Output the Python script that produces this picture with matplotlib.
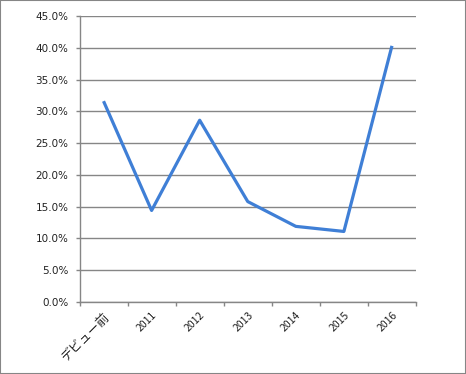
import matplotlib
matplotlib.use("Agg")
import matplotlib.pyplot as plt
from matplotlib.patches import Rectangle

categories = ["デビュー前", "2011", "2012", "2013", "2014", "2015", "2016"]
values = [31.6, 14.4, 28.6, 15.8, 11.9, 11.1, 40.3]
yticks = [0, 5, 10, 15, 20, 25, 30, 35, 40, 45]

plt.rcParams['font.family'] = ['DejaVu Sans', 'Noto Sans CJK JP']

fig = plt.figure(figsize=(4.66, 3.74), dpi=100)
ax = fig.add_axes([79.5/466, (374-302)/374, (416-79.5)/466, (302-16)/374])

x = list(range(len(categories)))
ax.plot(x, values, color='#3f7fd6', linewidth=2.3, solid_capstyle='butt', zorder=3)

ax.set_xlim(-0.5, len(categories) - 0.5)
ax.set_ylim(0, 45)
ax.set_yticks(yticks)
ax.set_yticklabels([f"{v:.1f}%" for v in yticks], fontsize=7.5, color='#222222')
ax.yaxis.grid(True, color='#868686', linewidth=1.0)
ax.set_axisbelow(True)

ax.set_xticks([i - 0.5 for i in range(len(categories) + 1)], minor=False)
ax.set_xticklabels([])
ax.set_xticks(x, minor=True)
labels = ax.set_xticklabels(categories, minor=True, rotation=45, ha='right', va='top',
                            rotation_mode='anchor', fontsize=7.5, color='#222222',
                            family=['Noto Sans CJK JP', 'DejaVu Sans'])
labels[0].set_fontsize(9)
ax.tick_params(axis='x', which='minor', length=0, pad=6)
ax.tick_params(axis='x', which='major', length=3, color='#868686', width=1)
ax.tick_params(axis='y', length=3, color='#868686', width=1, pad=5)

for s in ['top', 'right']:
    ax.spines[s].set_visible(False)
for s in ['left', 'bottom']:
    ax.spines[s].set_color('#868686')
    ax.spines[s].set_linewidth(1.0)

fig.patches.append(Rectangle((0, 0), 1, 1, transform=fig.transFigure,
                             fill=False, edgecolor='#868686', linewidth=1.5))

fig.savefig("out.png", dpi=100)
